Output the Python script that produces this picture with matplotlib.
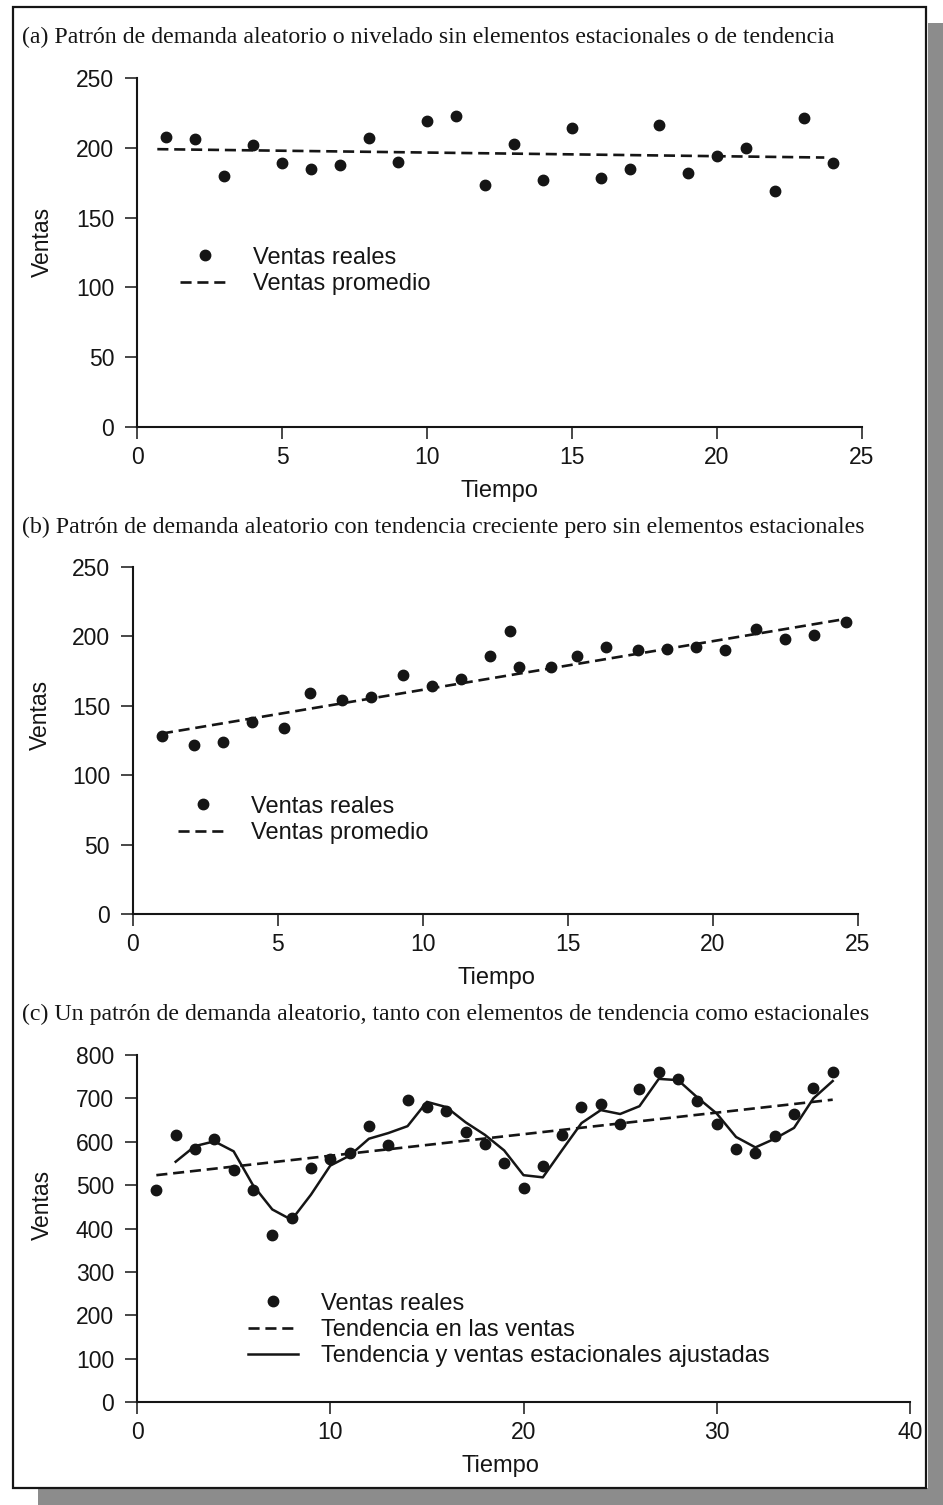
import matplotlib
matplotlib.use("Agg")
import matplotlib.pyplot as plt
from matplotlib.patches import Rectangle

# (a) demanda nivelada
tiempo_a = list(range(1, 25))
ventas_a = [208, 206, 180, 202, 189, 185, 188, 207, 190, 219, 223, 173,
            203, 177, 214, 178, 185, 216, 182, 194, 200, 169, 221, 189]
promedio_a_x = [0.7, 23.7]
promedio_a_y = [199, 193]

# (b) tendencia creciente
tiempo_b = [1.0, 2.1, 3.1, 4.1, 5.2, 6.1, 7.2, 8.2, 9.3, 10.3, 11.3, 12.3, 13.0,
            13.3, 14.4, 15.3, 16.3, 17.4, 18.4, 19.4, 20.4, 21.5, 22.5, 23.5, 24.6]
ventas_b = [128, 122, 124, 138, 134, 159, 154, 156, 172, 164, 169, 186, 204,
            178, 178, 186, 192, 190, 191, 192, 190, 205, 198, 201, 210]
promedio_b_x = [1.0, 24.7]
promedio_b_y = [130, 213]

# (c) tendencia y estacionalidad
tiempo_c = list(range(1, 37))
ventas_c = [489, 616, 584, 607, 536, 489, 384, 424, 540, 560, 573, 636,
            593, 696, 680, 670, 622, 596, 550, 493, 544, 616, 680, 687,
            641, 721, 760, 744, 693, 641, 583, 574, 613, 663, 724, 760]
tendencia_c_x = [1, 36]
tendencia_c_y = [523, 697]
ajuste_c_x = list(range(2, 37))
ajuste_c_y = [554, 590, 601, 578, 500, 444, 420, 478, 545, 568, 607, 620,
              636, 692, 680, 645, 616, 580, 523, 518, 581, 643, 673, 664,
              682, 745, 742, 702, 665, 611, 587, 607, 632, 700, 740]

titulos = [
    "(a) Patrón de demanda aleatorio o nivelado sin elementos estacionales o de tendencia",
    "(b) Patrón de demanda aleatorio con tendencia creciente pero sin elementos estacionales",
    "(c) Un patrón de demanda aleatorio, tanto con elementos de tendencia como estacionales",
]

INK = "#151515"
plt.rcParams['font.family'] = ['Liberation Sans', 'DejaVu Sans']

fig = plt.figure(figsize=(9.43, 15.05), dpi=100)

# marco y sombra
fig.patches.append(Rectangle((0.984, 0.0), 0.016, 0.985, transform=fig.transFigure,
                             facecolor="#8c8c8c", edgecolor="none", zorder=-2))
fig.patches.append(Rectangle((0.04, 0.0), 0.96, 0.011, transform=fig.transFigure,
                             facecolor="#8c8c8c", edgecolor="none", zorder=-2))
fig.patches.append(Rectangle((0.0138, 0.0113), 0.968, 0.984, transform=fig.transFigure,
                             facecolor="none", edgecolor=INK, linewidth=1.6, zorder=3))


def estilo(ax, xmax, ymax, xstep, ystep, ylab_xy, xlab_xy):
    ax.set_xlim(0, xmax)
    ax.set_ylim(0, ymax)
    ax.set_xticks(range(0, xmax + 1, xstep))
    ax.set_yticks(range(0, ymax + 1, ystep))
    ax.spines[['top', 'right']].set_visible(False)
    for s in ['left', 'bottom']:
        ax.spines[s].set_linewidth(1.5)
        ax.spines[s].set_color(INK)
    ax.tick_params(direction='out', length=8.5, width=1.1, colors=INK,
                   labelsize=16.5)
    ax.tick_params(axis='y', pad=8)
    ax.tick_params(axis='x', pad=5)
    ax.patch.set_alpha(0)
    ax.set_ylabel("Ventas", fontsize=16.5, color=INK)
    ax.yaxis.label.set_va('center')
    ax.yaxis.set_label_coords(*ylab_xy)
    ax.set_xlabel("Tiempo", fontsize=17, color=INK)
    ax.xaxis.label.set_va('center')
    ax.xaxis.set_label_coords(*xlab_xy)


def leyenda(ax, xy):
    ax.legend(loc='upper left', bbox_to_anchor=xy, frameon=False, fontsize=17,
              handlelength=2.1, handletextpad=1.0, labelspacing=0.18,
              borderpad=0, borderaxespad=0, numpoints=1, labelcolor=INK)


punto = dict(linestyle='none', marker='o', markersize=7.5, color=INK)
guion = dict(linestyle='--', dashes=(4.2, 2.2), linewidth=1.9, color=INK)

# (a)
ax1 = fig.add_axes([0.1453, 0.7163, 0.7688, 0.2319])
ax1.plot(tiempo_a, ventas_a, label="Ventas reales", **punto)
ax1.plot(promedio_a_x, promedio_a_y, label="Ventas promedio", **guion)
estilo(ax1, 25, 250, 5, 50, (-0.131, 0.53), (0.5, -0.183))
leyenda(ax1, (0.059, 0.517))

# (b)
ax2 = fig.add_axes([0.1410, 0.3927, 0.7688, 0.2306])
ax2.plot(tiempo_b, ventas_b, label="Ventas reales", **punto)
ax2.plot(promedio_b_x, promedio_b_y, label="Ventas promedio", **guion)
estilo(ax2, 25, 250, 5, 50, (-0.128, 0.573), (0.502, -0.184))
leyenda(ax2, (0.062, 0.341))

# (c)
ax3 = fig.add_axes([0.1453, 0.0684, 0.8197, 0.2306])
ax3.plot(tiempo_c, ventas_c, label="Ventas reales", **punto)
ax3.plot(tendencia_c_x, tendencia_c_y, label="Tendencia en las ventas", **guion)
ax3.plot(ajuste_c_x, ajuste_c_y, label="Tendencia y ventas estacionales ajustadas",
         linestyle='-', linewidth=1.8, color=INK)
estilo(ax3, 40, 800, 10, 100, (-0.123, 0.568), (0.47, -0.184))
leyenda(ax3, (0.1436, 0.315))

for y, t in zip([0.9748, 0.6498, 0.3262], titulos):
    fig.text(0.0233, y, t, family='Liberation Serif', fontsize=17.2,
             ha='left', va='center', color=INK)

fig.savefig("out.png", dpi=100, facecolor='white')
